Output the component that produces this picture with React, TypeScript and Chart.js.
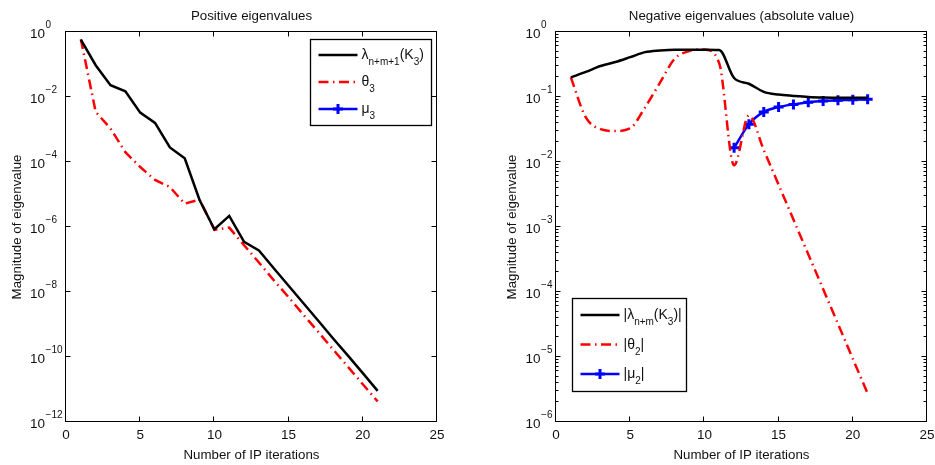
import React, { useEffect, useRef } from "react";
import { Chart, registerables } from "chart.js";

Chart.register(...registerables);

// Interior-point iteration index shared by every series
const iterations = [1, 2, 3, 4, 5, 6, 7, 8, 9, 10, 11, 12, 13, 14, 15, 16, 17, 18, 19, 20, 21];

// Positive eigenvalues
const lambdaPositive = [
  0.58, 0.095, 0.023, 0.015, 3.3e-3, 1.6e-3, 2.8e-4, 1.3e-4, 6.8e-6, 8.5e-7, 2.2e-6,
  3.5e-7, 1.9e-7, 5.4e-8, 1.55e-8, 4.5e-9, 1.3e-9, 3.7e-10, 1.1e-10, 3.2e-11, 9.1e-12,
];
const theta3 = [
  0.6, 3.5e-3, 1.07e-3, 2.0e-4, 7.0e-5, 2.8e-5, 1.7e-5, 5.2e-6, 7.0e-6, 8.2e-7, 9.6e-7,
  2.75e-7, 8.1e-8, 2.3e-8, 6.9e-9, 2.0e-9, 5.9e-10, 1.7e-10, 5.0e-11, 1.45e-11, 4.3e-12,
];
const mu3: (number | null)[] = [];

// Negative eigenvalues (absolute value)
const lambdaNegative = [
  0.2, 0.243, 0.3, 0.345, 0.41, 0.49, 0.52, 0.535, 0.535, 0.535, 0.53,
  0.196, 0.16, 0.12, 0.109, 0.104, 0.1, 0.098, 0.097, 0.097, 0.097,
];
const theta2 = [
  0.2, 0.049, 0.032, 0.03, 0.033, 0.069, 0.165, 0.39, 0.51, 0.54, 0.33,
  0.0089, 0.052, 0.0153, 4.47e-3, 1.3e-3, 3.8e-4, 1.11e-4, 3.24e-5, 9.4e-6, 2.75e-6,
];
const mu2 = [
  null, null, null, null, null, null, null, null, null, null, null,
  0.0165, 0.038, 0.059, 0.07, 0.077, 0.083, 0.087, 0.089, 0.091, 0.092,
];

// Axis ticks
const xTicks = [0, 5, 10, 15, 20, 25];
const posDecades = [0, -2, -4, -6, -8, -10, -12];
const negDecades = [0, -1, -2, -3, -4, -5, -6];

// Text
const posTitle = "Positive eigenvalues";
const negTitle = "Negative eigenvalues (absolute value)";
const xTitle = "Number of IP iterations";
const yTitle = "Magnitude of eigenvalue";

type Seg = { t: string; sub?: boolean };
const posLegendLabels: Seg[][] = [
  [{ t: "λ" }, { t: "n+m+1", sub: true }, { t: "(K" }, { t: "3", sub: true }, { t: ")" }],
  [{ t: "θ" }, { t: "3", sub: true }],
  [{ t: "μ" }, { t: "3", sub: true }],
];
const negLegendLabels: Seg[][] = [
  [{ t: "|λ" }, { t: "n+m", sub: true }, { t: "(K" }, { t: "3", sub: true }, { t: ")|" }],
  [{ t: "|θ" }, { t: "2", sub: true }, { t: "|" }],
  [{ t: "|μ" }, { t: "2", sub: true }, { t: "|" }],
];

const FONT = '"Liberation Sans", Arial, Helvetica, sans-serif';
const BLACK = "#000000";
const RED = "#ff0000";
const BLUE = "#0000ff";
const DASHDOT = [10, 4.5, 1.5, 4.5];

const toPoints = (vals: (number | null)[]) =>
  iterations.map((x, i) => ({ x, y: vals[i] ?? null })).filter((p) => p.y !== null);

type SeriesStyle = { color: string; dash: number[]; marker: boolean };
const seriesStyles: SeriesStyle[] = [
  { color: BLACK, dash: [], marker: false },
  { color: RED, dash: DASHDOT, marker: false },
  { color: BLUE, dash: [], marker: true },
];

type PanelSpec = {
  title: string;
  yMin: number;
  decades: number[];
  minorTicks: boolean;
  smooth: boolean;
  series: (number | null)[][];
  legendLabels: Seg[][];
  legendBox: { x: number; y: number; w: number; h: number };
  rowStart: number;
  rowGap: number;
  padRight: number;
  axisLeft: number;
};

function drawCross(ctx: CanvasRenderingContext2D, x: number, y: number, r: number) {
  ctx.beginPath();
  ctx.moveTo(x - r, y);
  ctx.lineTo(x + r, y);
  ctx.moveTo(x, y - r);
  ctx.lineTo(x, y + r);
  ctx.stroke();
}

function framePlugin(spec: PanelSpec) {
  return {
    id: "matlabFrame",
    afterDraw(chart: any) {
      const { ctx, chartArea: a, scales } = chart;
      const xs = scales.x;
      const ys = scales.y;
      const L = Math.round(a.left) - 0.5;
      const R = Math.round(a.right) - 0.5;
      const T = Math.round(a.top) - 0.5;
      const B = Math.round(a.bottom) - 0.5;
      ctx.save();
      ctx.setLineDash([]);
      ctx.strokeStyle = BLACK;
      ctx.fillStyle = "#111";
      ctx.lineWidth = 1;

      // Box
      ctx.strokeRect(L, T, R - L, B - T);

      // Inward ticks on all four sides
      ctx.beginPath();
      for (const v of xTicks) {
        const px = Math.round(xs.getPixelForValue(v)) - 0.5;
        ctx.moveTo(px, B);
        ctx.lineTo(px, B - 5);
        ctx.moveTo(px, T);
        ctx.lineTo(px, T + 5);
      }
      for (const e of spec.decades) {
        const py = Math.round(ys.getPixelForValue(Math.pow(10, e))) - 0.5;
        ctx.moveTo(L, py);
        ctx.lineTo(L + 5, py);
        ctx.moveTo(R, py);
        ctx.lineTo(R - 5, py);
      }
      if (spec.minorTicks) {
        const lo = Math.min(...spec.decades);
        const hi = Math.max(...spec.decades);
        for (let e = lo; e < hi; e++) {
          for (let m = 2; m <= 9; m++) {
            const py = Math.round(ys.getPixelForValue(m * Math.pow(10, e))) - 0.5;
            ctx.moveTo(L, py);
            ctx.lineTo(L + 3, py);
            ctx.moveTo(R, py);
            ctx.lineTo(R - 3, py);
          }
        }
      }
      ctx.stroke();

      // X tick labels
      ctx.font = `13.5px ${FONT}`;
      ctx.textAlign = "center";
      ctx.textBaseline = "alphabetic";
      for (const v of xTicks) {
        ctx.fillText(String(v), xs.getPixelForValue(v), a.bottom + 17);
      }

      // Y tick labels: 10 with a raised exponent
      const expFont = `10px ${FONT}`;
      const baseFont = `13.5px ${FONT}`;
      ctx.font = expFont;
      const expText = (e: number) => (e < 0 ? "\u2212" + String(-e) : String(e));
      const widest = Math.max(...spec.decades.map((e) => ctx.measureText(expText(e)).width));
      const baseX = a.left - 4 - widest;
      ctx.font = baseFont;
      const tenW = ctx.measureText("10").width;
      for (const e of spec.decades) {
        const py = ys.getPixelForValue(Math.pow(10, e));
        ctx.font = baseFont;
        ctx.textAlign = "right";
        ctx.fillText("10", baseX, py + 5.5);
        ctx.font = expFont;
        ctx.textAlign = "left";
        ctx.fillText(expText(e), baseX + 0.5, py - 4.5);
      }

      // Titles
      ctx.font = `13.3px ${FONT}`;
      ctx.textAlign = "center";
      ctx.fillText(spec.title, (a.left + a.right) / 2, a.top - 12.5);
      ctx.fillText(xTitle, (a.left + a.right) / 2, a.bottom + 37);
      ctx.save();
      ctx.translate(baseX - tenW - 9.5, (a.top + a.bottom) / 2);
      ctx.rotate(-Math.PI / 2);
      ctx.fillText(yTitle, 0, 0);
      ctx.restore();

      // Legend
      const lb = spec.legendBox;
      ctx.fillStyle = "#ffffff";
      ctx.fillRect(lb.x, lb.y, lb.w, lb.h);
      ctx.strokeStyle = BLACK;
      ctx.lineWidth = 1.3;
      ctx.strokeRect(lb.x + 0.5, lb.y + 0.5, lb.w, lb.h);
      const x1 = lb.x + 8.5;
      const x2 = x1 + 39;
      spec.legendLabels.forEach((segs, i) => {
        const st = seriesStyles[i];
        const ry = lb.y + spec.rowStart + i * spec.rowGap;
        ctx.strokeStyle = st.color;
        ctx.lineWidth = 2.5;
        ctx.setLineDash(st.dash);
        ctx.beginPath();
        ctx.moveTo(x1, ry);
        ctx.lineTo(x2, ry);
        ctx.stroke();
        ctx.setLineDash([]);
        if (st.marker) {
          ctx.lineWidth = 3;
          drawCross(ctx, (x1 + x2) / 2, ry, 5);
        }
        ctx.fillStyle = "#111";
        ctx.textAlign = "left";
        let tx = x2 + 4;
        for (const s of segs) {
          ctx.font = s.sub ? `10px ${FONT}` : `14px ${FONT}`;
          ctx.fillText(s.t, tx, s.sub ? ry + 10 : ry + 4);
          tx += ctx.measureText(s.t).width;
        }
      });
      ctx.restore();
    },
  };
}

function Panel({ spec, width, left }: { spec: PanelSpec; width: number; left: number }) {
  const ref = useRef<HTMLCanvasElement | null>(null);
  useEffect(() => {
    if (!ref.current) return;
    const datasets = spec.series.map((vals, i) => {
      const st = seriesStyles[i];
      return {
        data: toPoints(vals),
        borderColor: st.color,
        backgroundColor: st.color,
        borderWidth: 2.5,
        borderDash: st.dash,
        pointRadius: st.marker ? 5 : 0,
        pointStyle: "cross" as const,
        pointBorderWidth: 3,
        pointBorderColor: st.color,
        cubicInterpolationMode: spec.smooth ? ("monotone" as const) : ("default" as const),
        tension: 0,
        fill: false,
      };
    });
    const chart = new Chart(ref.current, {
      type: "line",
      data: { datasets },
      options: {
        animation: false,
        responsive: false,
        maintainAspectRatio: false,
        devicePixelRatio: 1,
        events: [],
        layout: { padding: { top: 32, right: spec.padRight, left: 0, bottom: 0 } },
        plugins: {
          legend: { display: false },
          title: { display: false },
          tooltip: { enabled: false },
        },
        scales: {
          x: {
            type: "linear",
            min: 0,
            max: 25,
            grid: { display: false, drawTicks: false },
            border: { display: false },
            ticks: { display: false },
            afterFit: (s: any) => {
              s.height = 43;
            },
          },
          y: {
            type: "logarithmic",
            min: spec.yMin,
            max: 1,
            grid: { display: false, drawTicks: false },
            border: { display: false },
            ticks: { display: false },
            afterFit: (s: any) => {
              s.width = spec.axisLeft;
            },
          },
        },
      },
      plugins: [framePlugin(spec)],
    } as any);
    return () => chart.destroy();
  }, [spec]);
  return (
    <canvas
      ref={ref}
      width={width}
      height={465}
      style={{ position: "absolute", left, top: 0, width, height: 465 }}
    />
  );
}

const posSpec: PanelSpec = {
  title: posTitle,
  yMin: 1e-12,
  decades: posDecades,
  minorTicks: false,
  smooth: false,
  series: [lambdaPositive, theta3, mu3],
  legendLabels: posLegendLabels,
  legendBox: { x: 310, y: 39, w: 121, h: 86 },
  rowStart: 16,
  rowGap: 27,
  padRight: 30,
  axisLeft: 66,
};

const negSpec: PanelSpec = {
  title: negTitle,
  yMin: 1e-6,
  decades: negDecades,
  minorTicks: true,
  smooth: true,
  series: [lambdaNegative, theta2, mu2],
  legendLabels: negLegendLabels,
  legendBox: { x: 105, y: 298, w: 114, h: 93 },
  rowStart: 17,
  rowGap: 29.5,
  padRight: 7,
  axisLeft: 89,
};

export default function App() {
  return (
    <div
      style={{
        position: "fixed",
        left: 0,
        top: 0,
        width: 935,
        height: 465,
        background: "#ffffff",
        overflow: "hidden",
      }}
    >
      <Panel spec={posSpec} width={467} left={0} />
      <Panel spec={negSpec} width={468} left={467} />
    </div>
  );
}
